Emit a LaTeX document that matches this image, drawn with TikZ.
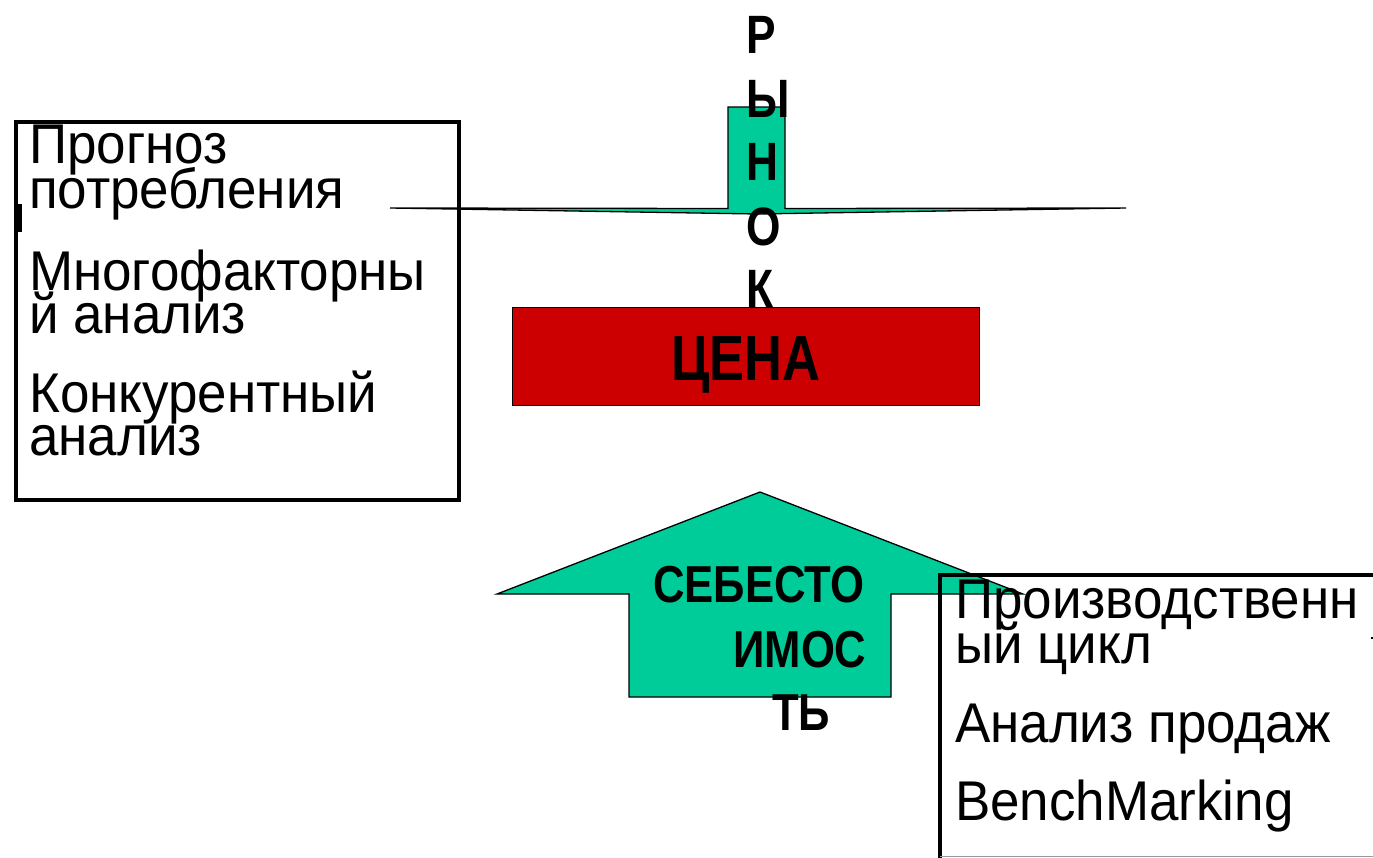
\documentclass[tikz,border=0pt]{standalone}
\usepackage{fontspec}
\setmainfont{Liberation Sans}
\newfontfamily\regfont{Liberation Sans}[FakeStretch=0.945]
\newfontfamily\boldfont{Liberation Sans Bold}[FakeStretch=0.82]
\newfontfamily\costfont{Liberation Sans Bold}[FakeStretch=0.84]
\definecolor{arrowgreen}{HTML}{00CC99}
\definecolor{pricered}{HTML}{CC0000}
\begin{document}
\begin{tikzpicture}[x=1pt,y=-1pt,
  reg/.style={inner sep=0pt,anchor=base west,font=\regfont\fontsize{56}{56}\selectfont},
  bigbold/.style={inner sep=0pt,anchor=base west,font=\boldfont\fontsize{54}{54}\selectfont},
  costtext/.style={inner sep=0pt,anchor=base west,font=\costfont\fontsize{52}{52}\selectfont},
  framebox/.style={draw=black,line width=4pt},
  arrowshape/.style={fill=arrowgreen,draw=black,line width=1.3pt,line join=miter}]
\useasboundingbox (0,0) rectangle (1373,857);
% top arrow (market)
\draw[arrowshape] (728,107) -- (785,107) -- (785,208.5) -- (1126,208) -- (757,214) -- (390,208) -- (728,208.5) -- cycle;
% left box
\node[framebox,minimum width=442.5pt,minimum height=378pt,inner sep=0pt,anchor=north west] (lbox) at (14,119.5) {};
\fill (17,204) rectangle (22,232);
\node[reg] (l1) at (29,163) {Прогноз};
\node[reg] (l2) at (29,208) {потребления};
\node[reg] (l3) at (29,290) {Многофакторны};
\node[reg] (l4) at (29,333) {й анализ};
\node[reg] (l5) at (29,412) {Конкурентный};
\node[reg] (l6) at (29,455) {анализ};
% price box
\node[draw=black,fill=pricered,line width=1.2pt,minimum width=467pt,minimum height=98pt,inner sep=0pt,anchor=north west] (price) at (512,307) {};
\node[inner sep=0pt,anchor=base,font=\boldfont\fontsize{64}{64}\selectfont] (pricet) at (746,380) {ЦЕНА};
% market letters
\node[bigbold] (m1) at (746,53) {Р};
\node[bigbold] (m2) at (746,117) {Ы};
\node[bigbold] (m3) at (746,180) {Н};
\node[bigbold] (m4) at (746,245) {О};
\node[bigbold] (m5) at (746,307) {К};
% bottom arrow (cost)
\draw[arrowshape] (760,492) -- (1023,594) -- (891,594) -- (891,697) -- (629,697) -- (629,594) -- (497,594) -- cycle;
\node[costtext] (c1) at (653,602) {СЕБЕСТО};
\node[costtext] (c2) at (733,667) {ИМОС};
\node[costtext] (c3) at (772,730) {ТЬ};
% right box
\draw[line width=4pt] (940,860) -- (940,575) -- (1380,575);
\draw[line width=1pt,black!40] (940,856) -- (1380,856);
\fill (1371,637) rectangle (1373,639);
\node[reg] (r1) at (955,618) {Производственн};
\node[reg] (r2) at (955,663) {ый цикл};
\node[reg] (r3) at (955,742) {Анализ продаж};
\node[reg] (r4) at (955,820) {BenchMarking};
\end{tikzpicture}
\end{document}
